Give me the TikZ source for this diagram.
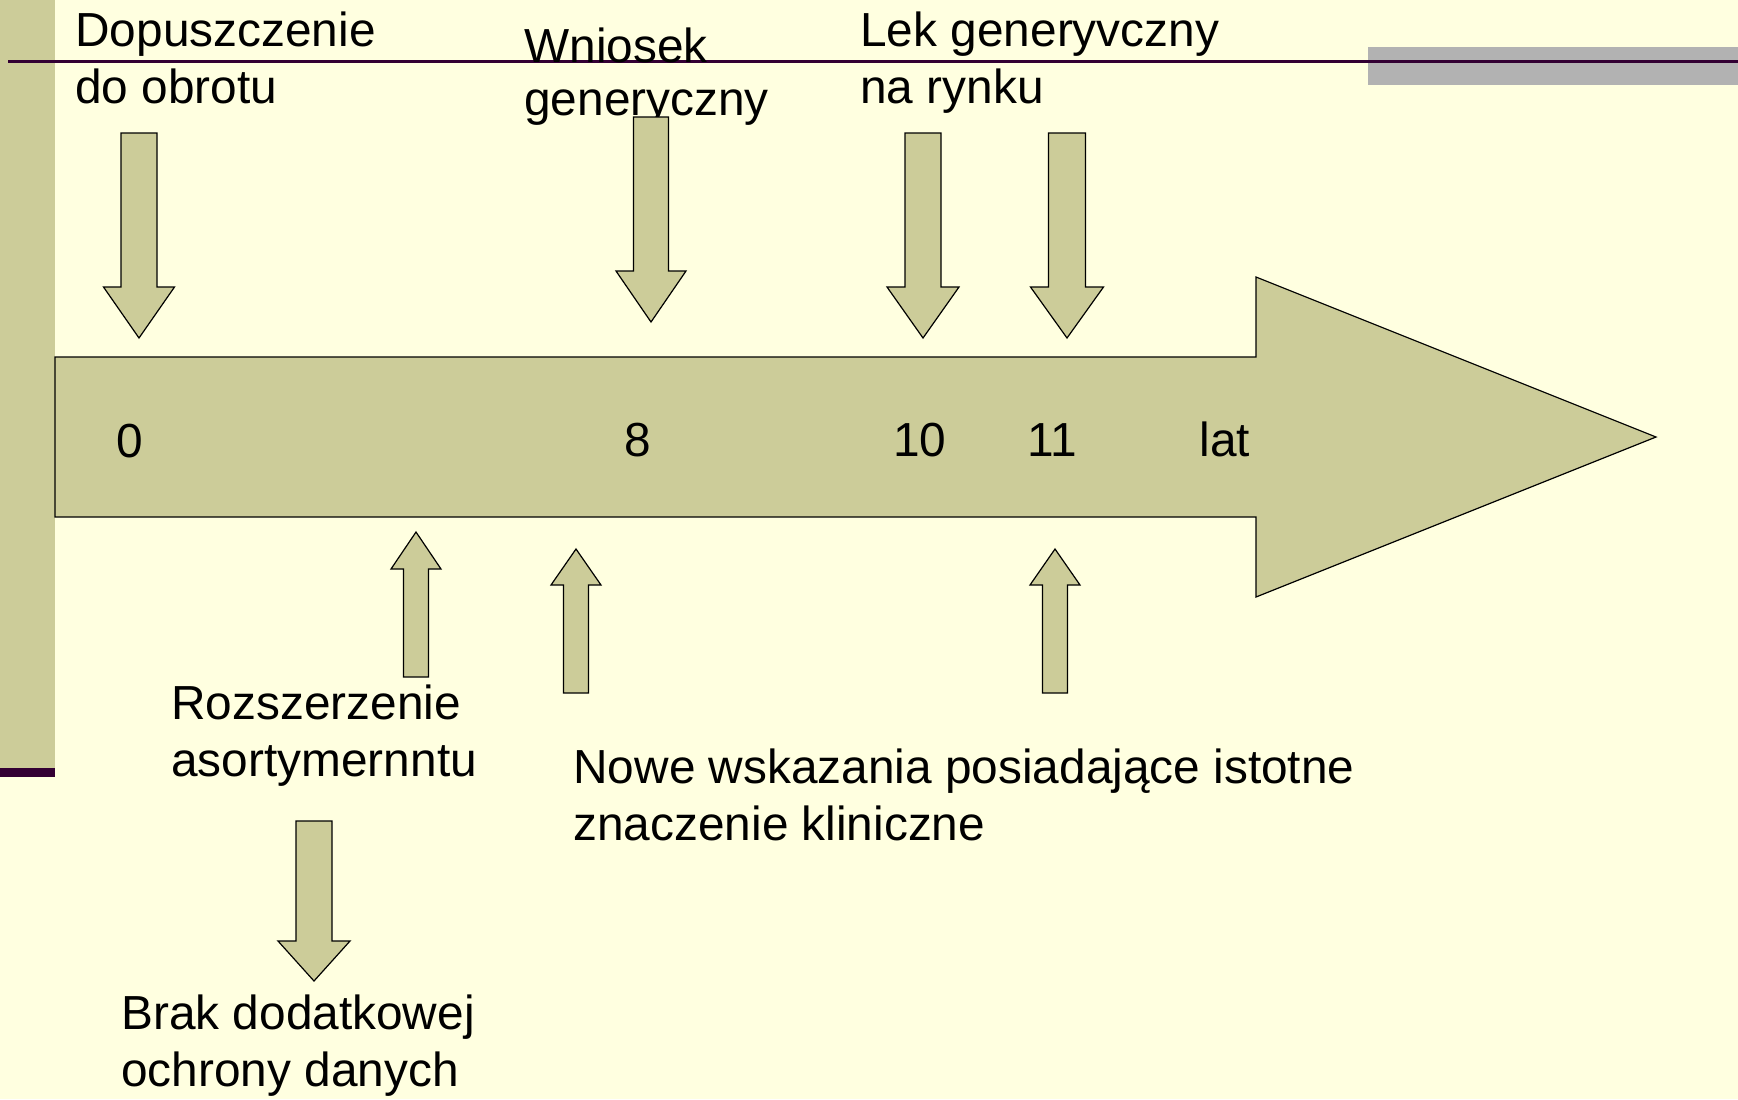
\documentclass[tikz,border=0pt]{standalone}
\usepackage{fontspec}
\setmainfont{Liberation Sans}
\definecolor{pagebg}{HTML}{FFFFE0}
\definecolor{khaki}{HTML}{CCCC99}
\definecolor{plum}{HTML}{330033}
\definecolor{band}{HTML}{B2B2B2}
% block arrow pointing down: centre x, top y, head start y, tip y, shaft half width, head half width
\newcommand{\downblock}[6]{%
  \draw[blk] (#1-#5,#2) -- (#1+#5,#2) -- (#1+#5,#3) -- (#1+#6,#3) -- (#1,#4)
    -- (#1-#6,#3) -- (#1-#5,#3) -- cycle;}
% block arrow pointing up: centre x, bottom y, head base y, tip y, shaft half width, head half width
\newcommand{\upblock}[6]{%
  \draw[blk] (#1-#5,#2) -- (#1+#5,#2) -- (#1+#5,#3) -- (#1+#6,#3) -- (#1,#4)
    -- (#1-#6,#3) -- (#1-#5,#3) -- cycle;}
\newcommand{\twolines}[2]{\begin{tabular}[t]{@{}l@{}}#1\\#2\end{tabular}}
\begin{document}
\begin{tikzpicture}[x=0.5pt,y=-0.5pt,
  blk/.style={fill=khaki,draw=black,line width=0.6pt,line join=miter},
  lbl/.style={anchor=base west,inner sep=0pt,font=\fontsize{23.9}{28.5}\selectfont},
  num/.style={anchor=base west,inner sep=0pt,font=\fontsize{23.9}{28.5}\selectfont}]
% page
\useasboundingbox (0,0) rectangle (1738,1099);
\fill[pagebg] (0,0) rectangle (1738,1099);
% slide decoration
\fill[khaki] (0,0) rectangle (55,768);
\fill[plum] (0,768) rectangle (55,777);
\fill[band] (1368,47) rectangle (1738,85);
\draw[plum,line width=1.7pt] (8,61.5) -- (1738,61.5);

% labels above and below the time line
\node[lbl] (dop) at (75,46) {\twolines{Dopuszczenie}{do obrotu}};
\node[lbl] (wn) at (524,62) {\begin{tabular}[t]{@{}l@{}}Wniosek\\[-2pt]generyczny\end{tabular}};
\node[lbl] (lek) at (860,46) {\twolines{Lek generyvczny}{na rynku}};
\node[lbl] (roz) at (171,719) {\twolines{Rozszerzenie}{asortymernntu}};
\node[lbl] (nowe) at (573,783) {\twolines{Nowe wskazania posiadające istotne}{znaczenie kliniczne}};
\node[lbl] (brak) at (121,1029) {\twolines{Brak dodatkowej}{ochrony danych}};

% time line
\draw[blk] (55,357) -- (1256,357) -- (1256,277) -- (1656,437) -- (1256,597)
  -- (1256,517) -- (55,517) -- cycle;
\node[num] (y0) at (116,457) {0};
\node[num] (y8) at (624,456) {8};
\node[num] (y10) at (893,456) {10};
\node[num] (y11) at (1027,456) {11};
\node[num] (lat) at (1199,456) {lat};

% markers above the line
\downblock{139}{133}{287}{338}{18}{35.5}
\downblock{651}{117}{271}{322}{17.5}{35}
\downblock{923}{133}{287}{338}{18}{36}
\downblock{1067}{133}{287}{338}{18.5}{36.5}
% markers below the line
\upblock{416}{677}{569}{532}{12.5}{25}
\upblock{576}{693}{585}{549}{12.5}{25}
\upblock{1055}{693}{585}{549}{12.5}{25}
\downblock{314}{821}{941}{981}{18}{36}
\end{tikzpicture}
\end{document}
